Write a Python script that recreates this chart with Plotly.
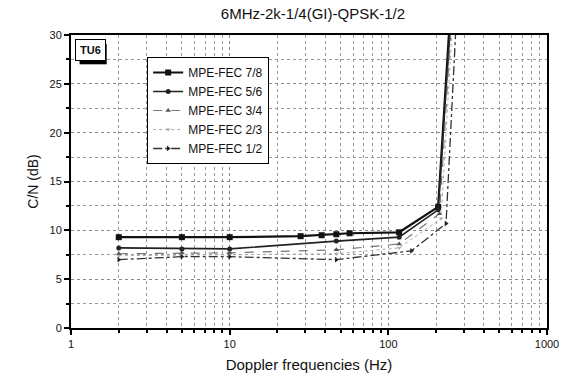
import plotly.graph_objects as go

title = "6MHz-2k-1/4(GI)-QPSK-1/2"

x_78 = [2, 5, 10, 28, 38, 47, 57, 117, 206, 244]
y_78 = [9.3, 9.3, 9.3, 9.4, 9.5, 9.6, 9.7, 9.8, 12.4, 31.5]

x_56 = [2, 5, 10, 47, 117, 206, 247]
y_56 = [8.2, 8.1, 8.1, 8.9, 9.3, 12.1, 31.5]

x_34 = [2, 5, 10, 47, 117, 210, 250]
y_34 = [7.6, 7.7, 7.7, 8.0, 8.6, 11.7, 31.5]

x_23 = [2, 5, 10, 47, 117, 215, 254]
y_23 = [7.4, 7.5, 7.5, 7.6, 8.2, 11.2, 31.5]

x_12 = [2, 5, 10, 47, 140, 231, 268]
y_12 = [7.0, 7.3, 7.3, 7.0, 7.9, 10.7, 31.5]

x_tickvals = [1, 10, 100, 1000]
x_ticktext = ["1", "10", "100", "1000"]
x_minor = [m * d for d in (1, 10, 100) for m in range(2, 10)]
y_tickvals = [0, 5, 10, 15, 20, 25, 30]

FONT = "Liberation Sans, Arial, sans-serif"

fig = go.Figure()

series = [
    ("MPE-FEC 7/8", x_78, y_78, dict(color="#111", width=2.2, dash="solid"), dict(symbol="square", size=6, color="#111")),
    ("MPE-FEC 5/6", x_56, y_56, dict(color="#222", width=1.6, dash="solid"), dict(symbol="circle", size=5, color="#222")),
    ("MPE-FEC 3/4", x_34, y_34, dict(color="#777", width=1.2, dash="dash"), dict(symbol="triangle-up", size=5, color="#555")),
    ("MPE-FEC 2/3", x_23, y_23, dict(color="#aaa", width=1.0, dash="dot"), dict(symbol="triangle-down", size=4, color="#aaa")),
    ("MPE-FEC 1/2", x_12, y_12, dict(color="#333", width=1.3, dash="dashdot"), dict(symbol="triangle-right", size=5, color="#222")),
]
for name, xs, ys, line, marker in series:
    fig.add_trace(go.Scatter(x=xs, y=ys, name=name, mode="lines+markers",
                             line=line, marker=marker, cliponaxis=True))

axis_common = dict(
    showline=True, linecolor="black", linewidth=2, mirror=True,
    ticks="outside", ticklen=5, tickwidth=1.5, tickcolor="black",
    showgrid=True, gridcolor="#888", gridwidth=1, griddash="dot",
    zeroline=False,
    tickfont=dict(family=FONT, size=11, color="#111"),
)

fig.update_xaxes(
    type="log", range=[0, 3],
    tickmode="array", tickvals=x_tickvals, ticktext=x_ticktext,
    minor=dict(tickmode="array", tickvals=x_minor, ticks="outside", ticklen=3,
               tickcolor="black", showgrid=True, gridcolor="#999", griddash="dot"),
    title=dict(text="Doppler frequencies (Hz)", font=dict(family=FONT, size=15, color="#111"), standoff=10),
    **axis_common,
)
fig.update_yaxes(
    range=[0, 30],
    tickmode="array", tickvals=y_tickvals,
    minor=dict(dtick=2.5, ticks="outside", ticklen=3, tickcolor="black",
               showgrid=True, gridcolor="#999", griddash="dot"),
    title=dict(text="C/N (dB)", font=dict(family=FONT, size=14, color="#111"), standoff=8),
    **axis_common,
)

# TU6 label box with shadow
fig.add_shape(type="rect", xref="paper", yref="paper",
              x0=0.018, x1=0.075, y0=0.9, y1=0.97,
              fillcolor="black", line=dict(width=0), layer="above")
fig.add_annotation(text="<b>TU6</b>", xref="paper", yref="paper",
                   x=0.008, y=0.985, xanchor="left", yanchor="top", showarrow=False,
                   font=dict(family=FONT, size=11, color="#111"),
                   bgcolor="white", bordercolor="black", borderwidth=1, borderpad=4)

fig.update_layout(
    width=571, height=384,
    margin=dict(l=71, r=19, t=35, b=56),
    paper_bgcolor="white", plot_bgcolor="white",
    title=dict(text=title, x=0.548, xanchor="center", y=0.965, yanchor="middle",
               font=dict(family=FONT, size=15, color="#111")),
    legend=dict(x=0.16, y=0.925, xanchor="left", yanchor="top",
                bgcolor="white", bordercolor="black", borderwidth=1,
                font=dict(family=FONT, size=12, color="#111"),
                tracegroupgap=0, itemwidth=30),
    showlegend=True,
)

fig.write_html("out.html")
